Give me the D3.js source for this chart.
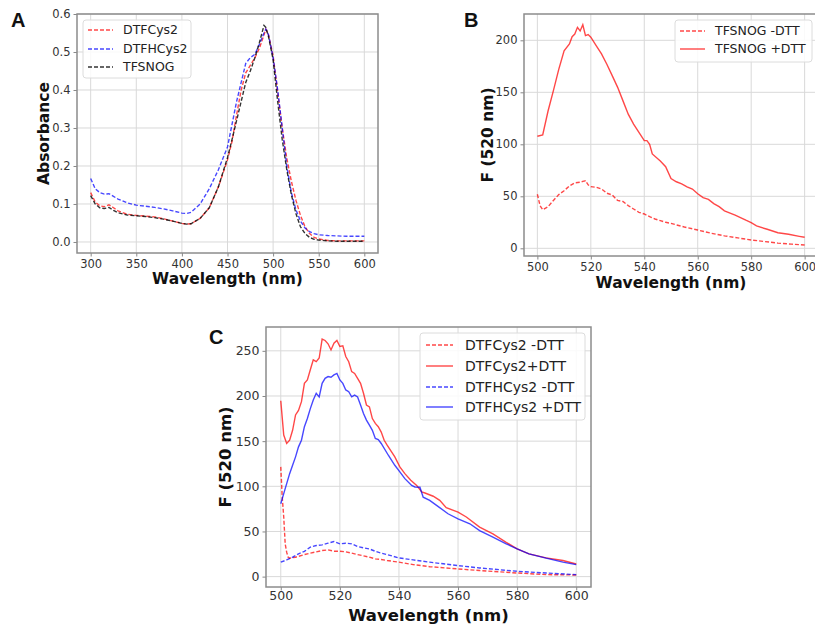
<!DOCTYPE html>
<html>
<head>
<meta charset="utf-8">
<script src="https://cdn.jsdelivr.net/npm/d3@7"></script>
<style>
  body { margin: 0; background: #fff; }
  text { font-family: "DejaVu Sans", sans-serif; }
</style>
</head>
<body>
<script>
// ---- panel A : absorbance spectra ----
const absWavelength = [300,305,310,315,320,325,330,340,350,360,370,380,390,400,405,410,420,430,440,450,455,460,465,470,475,480,485,490,492,495,500,505,510,515,520,525,530,535,540,545,550,560,570,580,590,600];
const absDTFCys2 = [0.13,0.105,0.095,0.093,0.098,0.09,0.082,0.073,0.07,0.068,0.066,0.061,0.055,0.049,0.047,0.048,0.062,0.09,0.145,0.216,0.265,0.335,0.4,0.445,0.465,0.485,0.51,0.545,0.56,0.545,0.49,0.395,0.3,0.22,0.16,0.11,0.07,0.04,0.022,0.012,0.008,0.004,0.003,0.003,0.003,0.003];
const absDTFHCys2 = [0.167,0.14,0.13,0.126,0.127,0.12,0.113,0.103,0.097,0.094,0.091,0.087,0.082,0.076,0.075,0.078,0.1,0.14,0.19,0.25,0.31,0.37,0.42,0.47,0.485,0.494,0.52,0.55,0.56,0.545,0.485,0.4,0.3,0.2,0.13,0.085,0.055,0.037,0.027,0.022,0.019,0.017,0.016,0.015,0.015,0.015];
const absTFSNOG = [0.122,0.1,0.09,0.088,0.091,0.083,0.077,0.071,0.069,0.067,0.064,0.06,0.055,0.049,0.047,0.048,0.062,0.09,0.145,0.222,0.27,0.32,0.37,0.42,0.45,0.485,0.525,0.57,0.565,0.54,0.48,0.37,0.27,0.19,0.125,0.075,0.04,0.022,0.012,0.007,0.005,0.003,0.002,0.002,0.002,0.002];

// ---- panel B : TFSNOG fluorescence ----
const bPlusWavelength = [500,502,504,506,508,510,512,513,514,515,516,517,518,519,520,522,524,526,528,530,532,534,536,538,540,541,542,543,546,548,550,552,554,556,558,560,562,564,566,568,570,574,578,580,582,586,590,594,598,600];
const bPlusDTT = [107.7,109,132,151.6,172,190,196.5,203.5,206,212.5,209,215,204.5,205.5,203,195,187,177,166,155,142,129,119.5,111.5,103.5,103.5,100,90.7,84,78.5,67,64,62,59,57,52.5,48.7,47,43,40,36,32,27,24.7,21.5,18.3,15,13.5,11.5,10.6];
const bMinusWavelength = [500,501,502,504,506,508,510,512,514,516,517,518,519,520,522,524,526,528,530,532,534,536,538,540,542,544,546,548,550,552,555,560,565,570,575,580,585,590,595,600];
const bMinusDTT = [52,41,37,40,46,51.6,55.4,60,63,63.5,64.4,65,61,59.3,58.7,57,53,51.3,46,45,41,37.8,34.6,33,30.4,28.2,26.6,25,24,22.5,20.5,17.6,14.5,12,10,8,6.5,5,4,3.2];

// ---- panel C : DTFCys2 / DTFHCys2 fluorescence ----
const cRedPlusWavelength = [500,501,502,503,504,505,506,507,508,509,510,511,512,513,514,515,516,517,518,519,520,521,522,523,524,525,526,527,528,529,530,531,532,533,534,535,536,538.6,540.3,542,544,546,547.7,548.8,551.6,553.8,556,560,562.8,567.3,571.8,576.3,580,584,589.8,595.5,600];
const cRedPlusDTT = [194.8,156.7,147.4,151,162,179,184,193.7,214,217.8,229,240,238,242,263,261.5,257.8,251,258.5,261.5,254.8,255.5,243.7,238,227,225,219.6,214,203,190,188,175,169.6,166,160,151,145.5,132.6,121.5,114,106.7,101,93.7,92.6,89,84.4,76.3,71.5,66,54.8,47.4,38,30.7,25.2,20.7,17.8,14];
const cBluePlusWavelength = [500,501,502,503,504,505,506,507,508,509,510,511,512,513,514,515,516,517,518,519,520,521,522,523,524,525,526,527,528,529,530,531,532,533,534,536.4,538.6,540.3,542,544.3,545.4,547.1,548.2,550.4,553.2,556.6,560,564,567.3,571.8,576.3,580,584,589.8,595.5,600];
const cBluePlusDTT = [80.7,91.9,103,114,123.3,132.6,143.7,151,166,175,186,195.6,203,199,214,219.6,221.5,220.7,223.3,225,217.8,214,206.7,204.8,199,201,199,190,180.7,173.3,167.8,162,153,151.8,147.4,134.4,123.3,116,108.5,101,99.3,99,88,84.4,77.8,69.6,64,58.5,51,43.7,36.3,30.7,25.2,20.4,16,13.3];
const cRedMinusWavelength = [500,500.5,501,501.5,502,502.5,503,505,508,510,512,514,516,518,520,522,524,526,528,530,532,534,536,540,544.8,550.4,560,567.3,580,589.8,600];
const cRedMinusDTT = [121.5,88,66,36,27,21.5,20.4,21.5,24.4,26,27.4,28.9,29.6,28.1,28.1,27.4,26,24.4,23,21.5,19.6,18.9,17.8,16,13.3,11,8.5,6.7,4,2.2,1.8];
const cBlueMinusWavelength = [500,502,504,506,508,510,512,514,516,518,520,522,524,526,528,530,532,534,536,540,544.8,550.4,560,567.3,580,589.8,600];
const cBlueMinusDTT = [16,18.5,21.5,25.2,28,32.6,34.4,35.2,37,38.9,36.3,37,36.3,33.3,31.9,30.7,28,26,24.4,20.7,18.5,16,12.2,9.6,5.9,4,2.2];

const RED = "rgba(255,0,0,0.72)";
const BLUE = "rgba(0,0,255,0.72)";
const BLACK = "rgba(0,0,0,0.8)";
const DASH = "4,2";

const svg = d3.select("body").append("svg")
    .attr("width", 815)
    .attr("height", 625);

const zip = (xs, ys) => xs.map((x, i) => [x, ys[i]]);

let clipId = 0;
function drawPanel(p) {
    const x = d3.scaleLinear(p.xDomain, [p.left, p.right]);
    const y = d3.scaleLinear(p.yDomain, [p.bottom, p.top]);
    const g = svg.append("g");

    // grid
    g.append("g").selectAll("line").data(p.xTicks).join("line")
        .attr("x1", d => x(d)).attr("x2", d => x(d))
        .attr("y1", p.top).attr("y2", p.bottom)
        .attr("stroke", "#d9d9d9").attr("stroke-width", 1);
    g.append("g").selectAll("line").data(p.yTicks).join("line")
        .attr("y1", d => y(d)).attr("y2", d => y(d))
        .attr("x1", p.left).attr("x2", p.right)
        .attr("stroke", "#d9d9d9").attr("stroke-width", 1);

    // axes with small outward ticks
    const xAxis = g.append("g")
        .attr("transform", `translate(0,${p.bottom})`)
        .call(d3.axisBottom(x).tickValues(p.xTicks).tickSize(3.5).tickPadding(p.xPad).tickFormat(p.xFormat));
    const yAxis = g.append("g")
        .attr("transform", `translate(${p.left},0)`)
        .call(d3.axisLeft(y).tickValues(p.yTicks).tickSize(3.5).tickPadding(3).tickFormat(p.yFormat));
    [xAxis, yAxis].forEach(a => {
        a.select(".domain").remove();
        a.selectAll(".tick line").attr("stroke", "#888");
        a.selectAll(".tick text").attr("fill", "#333")
            .style("font-size", p.tickSize + "px");
    });

    // lines
    const id = "clip" + (clipId++);
    svg.append("clipPath").attr("id", id).append("rect")
        .attr("x", p.left).attr("y", p.top)
        .attr("width", p.right - p.left).attr("height", p.bottom - p.top);
    const line = d3.line().x(d => x(d[0])).y(d => y(d[1]));
    g.append("g").attr("clip-path", `url(#${id})`)
        .selectAll("path").data(p.series).join("path")
        .attr("d", s => line(zip(s.x, s.y)))
        .attr("fill", "none")
        .attr("stroke", s => s.color)
        .attr("stroke-width", 1.4)
        .attr("stroke-dasharray", s => s.dashed ? DASH : null);

    // frame
    g.append("rect")
        .attr("x", p.left).attr("y", p.top)
        .attr("width", p.right - p.left).attr("height", p.bottom - p.top)
        .attr("fill", "none").attr("stroke", "#8c8c8c").attr("stroke-width", 1.5);

    // labels
    g.append("text")
        .attr("x", (p.left + p.right) / 2).attr("y", p.xLabelY)
        .attr("text-anchor", "middle").attr("font-weight", "bold")
        .style("font-size", p.labelSize + "px").attr("fill", "#111")
        .text("Wavelength (nm)");
    g.append("text")
        .attr("transform", `translate(${p.yLabelX},${(p.top + p.bottom) / 2}) rotate(-90)`)
        .attr("text-anchor", "middle").attr("font-weight", "bold")
        .style("font-size", p.labelSize + "px").attr("fill", "#111")
        .text(p.yLabel);
    g.append("text")
        .attr("x", p.letterX).attr("y", p.letterY)
        .attr("font-weight", "bold")
        .style("font-family", "'Liberation Sans', Arial, sans-serif")
        .style("font-size", "20px").attr("fill", "#111")
        .text(p.letter);

    // legend
    const L = p.legend;
    g.append("rect")
        .attr("x", L.x).attr("y", L.y).attr("width", L.w).attr("height", L.h)
        .attr("rx", 3).attr("fill", "rgba(255,255,255,0.85)")
        .attr("stroke", "#dcdcdc");
    const items = g.append("g").selectAll("g").data(p.series).join("g")
        .attr("transform", (s, i) => `translate(${L.x},${L.rows[i]})`);
    items.append("line")
        .attr("x1", L.lx1).attr("x2", L.lx2)
        .attr("stroke", s => s.color).attr("stroke-width", 1.4)
        .attr("stroke-dasharray", s => s.dashed ? DASH : null);
    items.append("text")
        .attr("x", L.tx).attr("dy", "0.35em")
        .style("font-size", L.font + "px").attr("fill", "#222")
        .text(s => s.name);
}

drawPanel({
    letter: "A", letterX: 11, letterY: 27,
    left: 77, right: 378, top: 14, bottom: 253,
    xDomain: [285, 615], yDomain: [-0.029, 0.6],
    xTicks: [300, 350, 400, 450, 500, 550, 600],
    yTicks: [0, 0.1, 0.2, 0.3, 0.4, 0.5, 0.6],
    xFormat: d3.format("d"), yFormat: d3.format(".1f"),
    tickSize: 11.5, labelSize: 15.5, xPad: 3,
    xLabelY: 284, yLabelX: 49, yLabel: "Absorbance",
    series: [
        { name: "DTFCys2", x: absWavelength, y: absDTFCys2, color: RED, dashed: true },
        { name: "DTFHCys2", x: absWavelength, y: absDTFHCys2, color: BLUE, dashed: true },
        { name: "TFSNOG", x: absWavelength, y: absTFSNOG, color: BLACK, dashed: true }
    ],
    legend: { x: 83, y: 20, w: 108, h: 58, rows: [30, 49, 67], lx1: 5, lx2: 30, tx: 40, font: 12.5 }
});

drawPanel({
    letter: "B", letterX: 464, letterY: 27,
    left: 524, right: 818, top: 14, bottom: 256,
    xDomain: [495, 605], yDomain: [-7.4, 225.3],
    xTicks: [500, 520, 540, 560, 580, 600],
    yTicks: [0, 50, 100, 150, 200],
    xFormat: d3.format("d"), yFormat: d3.format("d"),
    tickSize: 11.5, labelSize: 15.5, xPad: 3,
    xLabelY: 288, yLabelX: 493, yLabel: "F (520 nm)",
    series: [
        { name: "TFSNOG -DTT", x: bMinusWavelength, y: bMinusDTT, color: RED, dashed: true },
        { name: "TFSNOG +DTT", x: bPlusWavelength, y: bPlusDTT, color: RED, dashed: false }
    ],
    legend: { x: 675, y: 20, w: 137, h: 42, rows: [31, 49], lx1: 5, lx2: 30, tx: 40, font: 12.5 }
});

drawPanel({
    letter: "C", letterX: 209, letterY: 344,
    left: 266, right: 591, top: 327, bottom: 587,
    xDomain: [495, 605], yDomain: [-11.5, 276.4],
    xTicks: [500, 520, 540, 560, 580, 600],
    yTicks: [0, 50, 100, 150, 200, 250],
    xFormat: d3.format("d"), yFormat: d3.format("d"),
    tickSize: 12.5, labelSize: 16.5, xPad: 1,
    xLabelY: 621, yLabelX: 231, yLabel: "F (520 nm)",
    series: [
        { name: "DTFCys2 -DTT", x: cRedMinusWavelength, y: cRedMinusDTT, color: RED, dashed: true },
        { name: "DTFCys2+DTT", x: cRedPlusWavelength, y: cRedPlusDTT, color: RED, dashed: false },
        { name: "DTFHCys2 -DTT", x: cBlueMinusWavelength, y: cBlueMinusDTT, color: BLUE, dashed: true },
        { name: "DTFHCys2 +DTT", x: cBluePlusWavelength, y: cBluePlusDTT, color: BLUE, dashed: false }
    ],
    legend: { x: 420, y: 333, w: 165, h: 87, rows: [345, 366, 387, 407], lx1: 6, lx2: 33, tx: 45, font: 14 }
});
</script>
</body>
</html>
